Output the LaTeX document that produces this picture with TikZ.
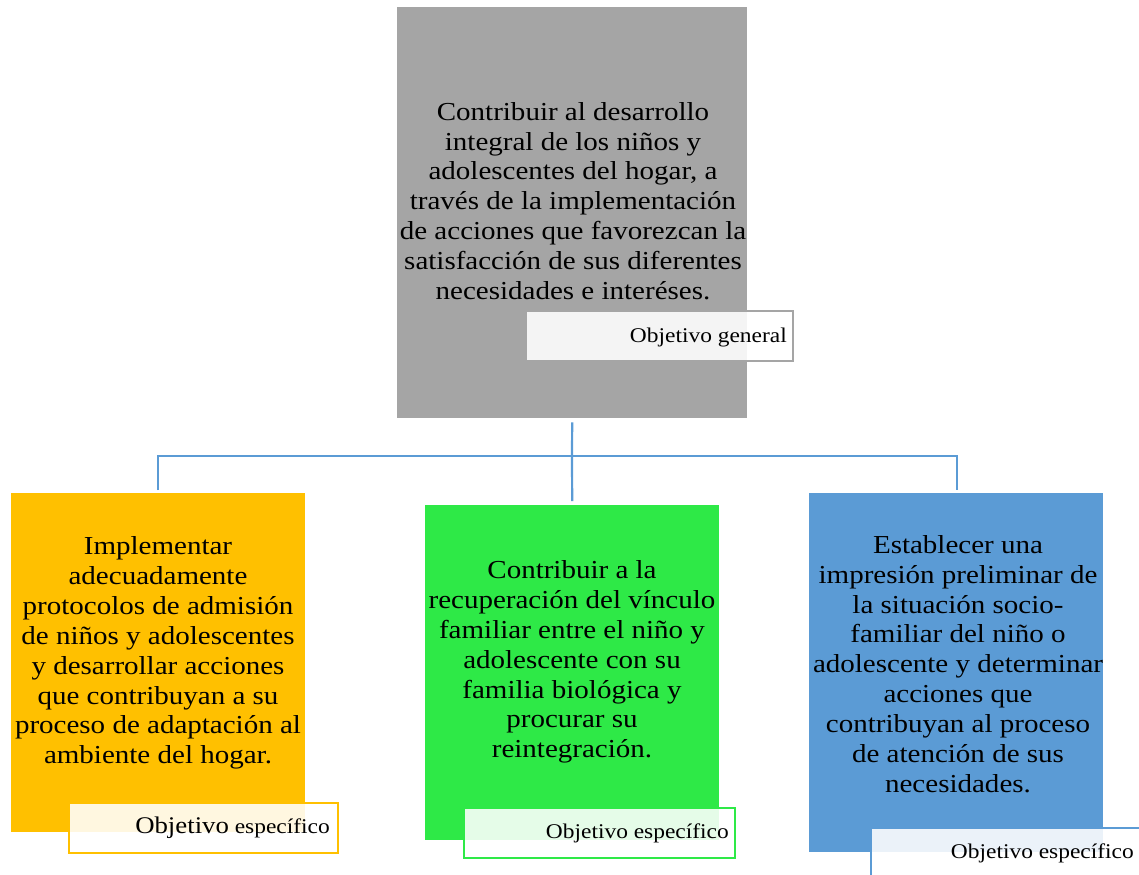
\documentclass[tikz,border=0pt]{standalone}
\usepackage{fontspec}
\setmainfont[FakeStretch=1.12]{Liberation Serif}
\begin{document}
\begin{tikzpicture}[x=1bp,y=-1bp,
  box/.style={draw=none,fill=#1,minimum width=294bp,anchor=north west,inner sep=0pt},
  txt/.style={align=center,font=\fontsize{26}{30}\selectfont,inner sep=0pt,text=black},
  tag/.style={draw=#1,line width=2bp,fill=white,fill opacity=0.88,text opacity=1,
     minimum width=267bp,minimum height=50bp,anchor=north west,inner sep=0pt},
  tagtxt/.style={anchor=east,font=\fontsize{21}{24}\selectfont,inner sep=0pt,text=black},
  conn/.style={draw=cblue,line width=2.2bp}]
\definecolor{cgray}{HTML}{A5A5A5}
\definecolor{corange}{HTML}{FFC000}
\definecolor{cgreen}{HTML}{2EE947}
\definecolor{cblue}{HTML}{5B9BD5}
\useasboundingbox (0,0) rectangle (1139,875);
% boxes
\node[box=cgray,minimum width=350bp,minimum height=411bp] (top) at (397,7) {};
\node[box=corange,minimum height=339bp] (left) at (11,493) {};
\node[box=cgreen,minimum height=335bp] (mid) at (425,505) {};
\node[box=cblue,minimum height=359bp] (right) at (809,493) {};
% texts
\node[txt] (toptxt) at (573,201) {Contribuir al desarrollo\\integral de los niños y\\adolescentes del hogar, a\\través de la implementación\\de acciones que favorezcan la\\satisfacción de sus diferentes\\necesidades e interéses.};
\node[txt] (lefttxt) at (158,653) {Implementar\\adecuadamente\\protocolos de admisión\\de niños y adolescentes\\y desarrollar acciones\\que contribuyan a su\\proceso de adaptación al\\ambiente del hogar.};
\node[txt] (midtxt) at (572,662) {Contribuir a la\\recuperación del vínculo\\familiar entre el niño y\\adolescente con su\\familia biológica y\\procurar su\\reintegración.};
\node[txt] (righttxt) at (958,664) {Establecer una\\impresión preliminar de\\la situación socio-\\familiar del niño o\\adolescente y determinar\\acciones que\\contribuyan al proceso\\de atención de sus\\necesidades.};
% tags
\node[tag=cgray] (tagtop) at (525,310) {};
\node[tagtxt] (tagtoptxt) at (787,337) {Objetivo general};
\node[tag=corange,minimum width=269bp] (tagleft) at (68,802) {};
\node[tagtxt] (taglefttxt) at (330,828) {{\fontsize{24}{27}\selectfont Objetivo} específico};
\node[tag=cgreen,minimum width=271bp] (tagmid) at (463,807) {};
\node[tagtxt] (tagmidtxt) at (729,833) {Objetivo específico};
\node[tag=cblue,minimum width=275bp] (tagright) at (870,827) {};
\node[tagtxt] (tagrighttxt) at (1134,853) {Objetivo específico};
% connectors
\coordinate (hub) at (572,456);
\draw[conn] ([yshift=-4bp]top.south) -- (hub);
\draw[conn] ([yshift=3bp]left.north) |- (hub) -| ([yshift=3bp,xshift=1bp]right.north);
\draw[conn] (hub) -- ([yshift=4bp]mid.north);
\end{tikzpicture}
\end{document}
